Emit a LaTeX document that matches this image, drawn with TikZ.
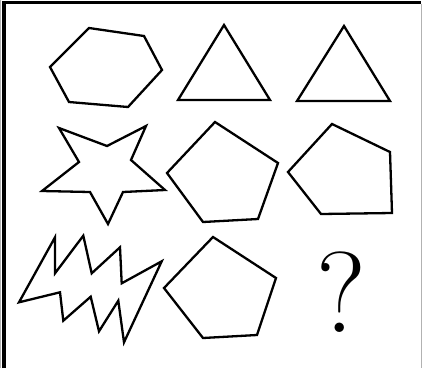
\documentclass[tikz,border=0pt]{standalone}
\begin{document}
\begin{tikzpicture}[x=1pt,y=-1pt,
  figline/.style={draw=black,line width=2.3pt,line join=miter},
  framebar/.style={draw=black,line width=3.3pt},
  grayedge/.style={draw=black!30,line width=1pt}]
\useasboundingbox (0,0) rectangle (423,368);
% frame
\draw[grayedge] (0.5,0) -- (0.5,368);
\draw[grayedge] (421.5,4) -- (421.5,368);
\draw[framebar] (4,368) -- (4,2.5) -- (421,2.5);
% row 1
\draw[figline] (89,28) -- (144,36) -- (162,70) -- (128,107) -- (69,102) -- (50,67) -- cycle;
\draw[figline] (178,100) -- (224,25) -- (270,100) -- cycle;
\draw[figline] (297,101) -- (344,26) -- (390,101) -- cycle;
% row 2
\draw[figline] (59,128) -- (107,146) -- (146,126) -- (131,160) -- (165,190) -- (123,192)
  -- (108,224) -- (90,192) -- (42,191) -- (79,162) -- cycle;
\draw[figline] (215,122) -- (278,163) -- (258,219) -- (203,222) -- (167,173) -- cycle;
\draw[figline] (332,124) -- (390,152) -- (392,213) -- (321,214) -- (288,172) -- cycle;
% row 3
\draw[figline] (19,302.3) -- (55,237.3) -- (55,273.3) -- (83.3,235.7) -- (91.7,273.3)
  -- (120,247.3) -- (121.7,283.3) -- (161.7,261.3) -- (124,342.3) -- (118.3,300.7)
  -- (99,331.3) -- (90.7,296.7) -- (63.3,320.7) -- (60,292.3) -- cycle;
\draw[figline] (213,237) -- (276,278) -- (257,335) -- (203,338) -- (164,288) -- cycle;
\node[inner sep=0pt] (q) at (341,292) {\fontsize{115}{115}\selectfont ?};
\end{tikzpicture}
\end{document}
